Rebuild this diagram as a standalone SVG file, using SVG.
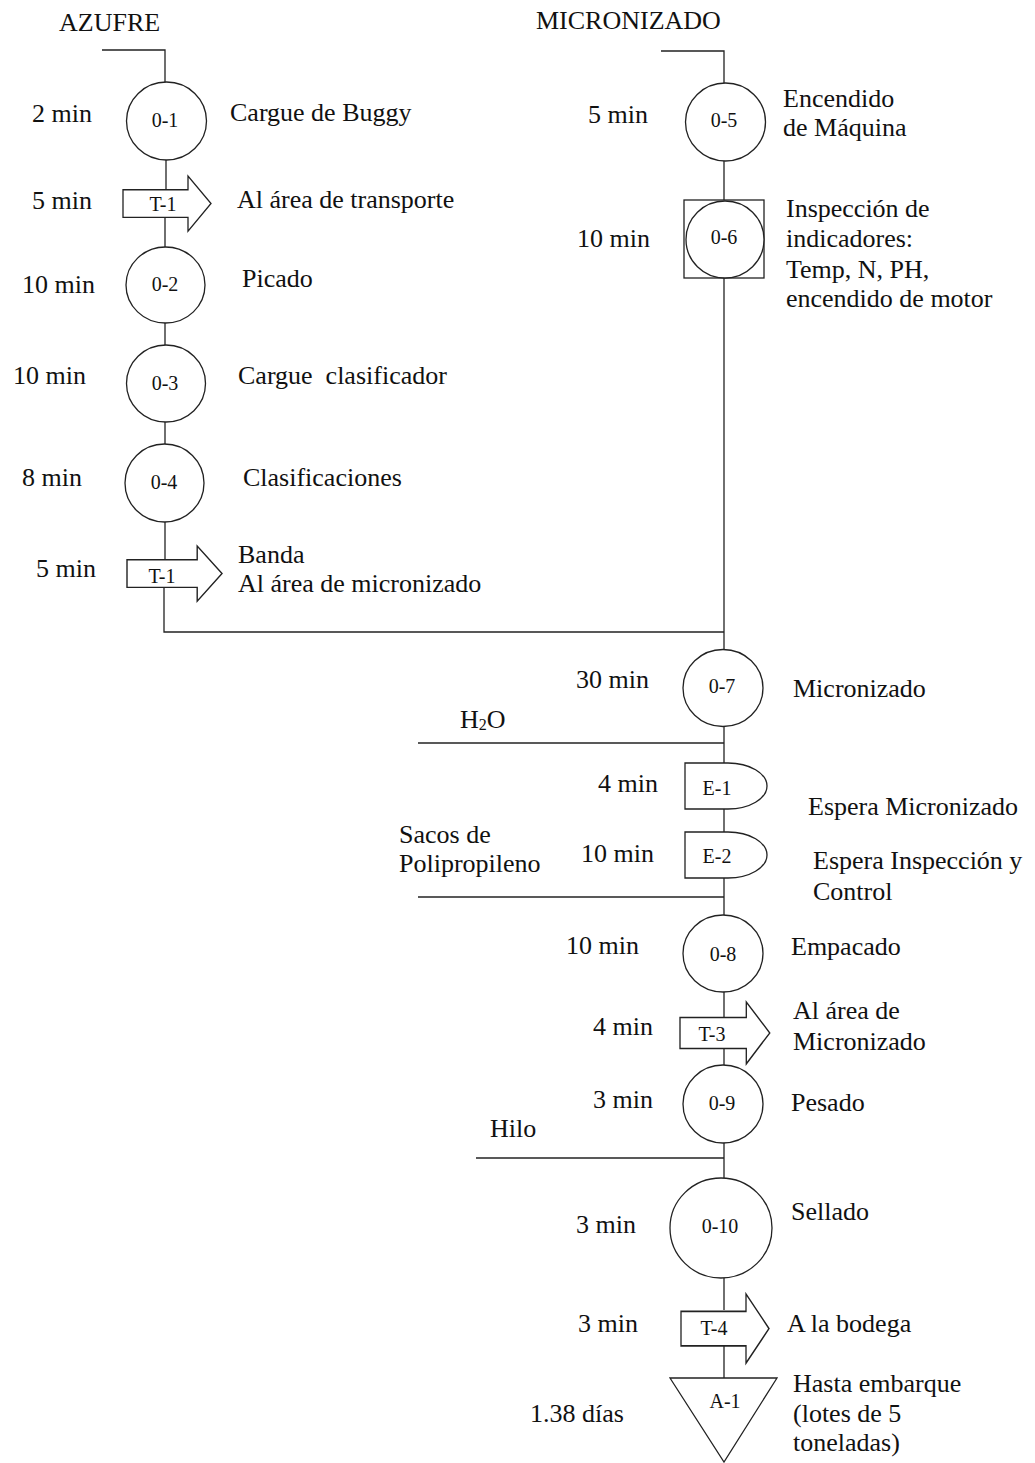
<svg xmlns="http://www.w3.org/2000/svg" width="1035" height="1463" viewBox="0 0 1035 1463">
<style>
.s{fill:#fff;stroke:#222;stroke-width:1.3}
.c{fill:none;stroke:#222;stroke-width:1.3}
text{font-family:"Liberation Serif","Times New Roman",serif;fill:#111}
.t{font-size:26px}
.k{font-size:20px;text-anchor:middle}
</style>
<defs>
<path id="arrow" d="M0,13 H65 V0 L88,26 L65,52 V39 H0 Z"/>
</defs>
<rect width="1035" height="1463" fill="#fff"/>
<g id="connectors">
<path class="c" d="M102,50 H165 V82"/>
<path class="c" d="M166,160 V189"/>
<path class="c" d="M165,217 V247"/>
<path class="c" d="M165,323 V345"/>
<path class="c" d="M165,422 V444"/>
<path class="c" d="M165,522 V559"/>
<path class="c" d="M164,587 V632 H724"/>
<path class="c" d="M661,51 H724 V83"/>
<path class="c" d="M724,161 V200"/>
<path class="c" d="M724,278 V650"/>
<path class="c" d="M724,727 V763"/>
<path class="c" d="M418,743 H724"/>
<path class="c" d="M724,809 V832"/>
<path class="c" d="M724,878 V915"/>
<path class="c" d="M418,897 H724"/>
<path class="c" d="M724,992 V1017"/>
<path class="c" d="M724,1048 V1065"/>
<path class="c" d="M724,1143 V1178"/>
<path class="c" d="M476,1158 H724"/>
<path class="c" d="M724,1278 V1310"/>
<path class="c" d="M724,1345 V1378"/>
</g>
<g id="titles">
<text class="t" x="59" y="31">AZUFRE</text>
<text class="t" x="536" y="29">MICRONIZADO</text>
</g>
<g id="n01">
<ellipse class="s" cx="166.5" cy="121" rx="40" ry="39"/>
<text class="k" x="165" y="127">0-1</text>
<text class="t" x="32" y="122">2 min</text>
<text class="t" x="230" y="121">Cargue de Buggy</text>
</g>
<g id="t1a">
<use href="#arrow" class="s" transform="translate(123,176) scale(1,1.06)"/>
<text class="k" x="163" y="211">T-1</text>
<text class="t" x="32" y="209">5 min</text>
<text class="t" x="237" y="208">Al área de transporte</text>
</g>
<g id="n02">
<ellipse class="s" cx="165.5" cy="285" rx="39.5" ry="38"/>
<text class="k" x="165" y="291">0-2</text>
<text class="t" x="22" y="293">10 min</text>
<text class="t" x="242" y="287">Picado</text>
</g>
<g id="n03">
<ellipse class="s" cx="166" cy="383.5" rx="39.5" ry="38.5"/>
<text class="k" x="165" y="390">0-3</text>
<text class="t" x="13" y="384">10 min</text>
<text class="t" x="238" y="384" xml:space="preserve">Cargue  clasificador</text>
</g>
<g id="n04">
<ellipse class="s" cx="164.5" cy="483" rx="39.5" ry="39"/>
<text class="k" x="164" y="489">0-4</text>
<text class="t" x="22" y="486">8 min</text>
<text class="t" x="243" y="486">Clasificaciones</text>
</g>
<g id="t1b">
<use href="#arrow" class="s" transform="translate(127,546) scale(1.08,1.06)"/>
<text class="k" x="162" y="583">T-1</text>
<text class="t" x="36" y="577">5 min</text>
<text class="t" x="238" y="563">Banda</text>
<text class="t" x="238" y="592">Al área de micronizado</text>
</g>
<g id="n05">
<ellipse class="s" cx="725.5" cy="122" rx="40" ry="39"/>
<text class="k" x="724" y="127">0-5</text>
<text class="t" x="588" y="123">5 min</text>
<text class="t" x="783" y="107">Encendido</text>
<text class="t" x="783" y="136">de Máquina</text>
</g>
<g id="n06">
<rect class="s" x="684" y="200" width="80" height="78"/>
<ellipse class="s" cx="725" cy="239.5" rx="39" ry="38.5"/>
<text class="k" x="724" y="244">0-6</text>
<text class="t" x="577" y="247">10 min</text>
<text class="t" x="786" y="217">Inspección de</text>
<text class="t" x="786" y="247">indicadores:</text>
<text class="t" x="786" y="278">Temp, N, PH,</text>
<text class="t" x="786" y="307">encendido de motor</text>
</g>
<g id="n07">
<ellipse class="s" cx="723" cy="688" rx="40" ry="38.5"/>
<text class="k" x="722" y="693">0-7</text>
<text class="t" x="576" y="688">30 min</text>
<text class="t" x="793" y="697">Micronizado</text>
<text class="t" x="460" y="728">H<tspan font-size="16" dy="2">2</tspan><tspan dy="-2">O</tspan></text>
</g>
<g id="e1">
<path class="s" d="M685,763 H728 A39,23 0 0 1 728,809 H685 Z"/>
<text class="k" x="717" y="795">E-1</text>
<text class="t" x="598" y="792">4 min</text>
<text class="t" x="808" y="815">Espera Micronizado</text>
</g>
<g id="e2">
<path class="s" d="M685,832 H728 A39,23 0 0 1 728,878 H685 Z"/>
<text class="k" x="717" y="863">E-2</text>
<text class="t" x="581" y="862">10 min</text>
<text class="t" x="399" y="843">Sacos de</text>
<text class="t" x="399" y="872">Polipropileno</text>
<text class="t" x="813" y="869">Espera Inspección y</text>
<text class="t" x="813" y="900">Control</text>
</g>
<g id="n08">
<ellipse class="s" cx="723" cy="953.5" rx="40" ry="38.5"/>
<text class="k" x="723" y="961">0-8</text>
<text class="t" x="566" y="954">10 min</text>
<text class="t" x="791" y="955">Empacado</text>
</g>
<g id="t3">
<use href="#arrow" class="s" transform="translate(680,1002) scale(1.02,1.19)"/>
<text class="k" x="712" y="1041">T-3</text>
<text class="t" x="593" y="1035">4 min</text>
<text class="t" x="793" y="1019">Al área de</text>
<text class="t" x="793" y="1050">Micronizado</text>
</g>
<g id="n09">
<ellipse class="s" cx="723" cy="1104" rx="40" ry="39"/>
<text class="k" x="722" y="1110">0-9</text>
<text class="t" x="593" y="1108">3 min</text>
<text class="t" x="791" y="1111">Pesado</text>
<text class="t" x="490" y="1137">Hilo</text>
</g>
<g id="n10">
<ellipse class="s" cx="721" cy="1228" rx="51" ry="50"/>
<text class="k" x="720" y="1233">0-10</text>
<text class="t" x="576" y="1233">3 min</text>
<text class="t" x="791" y="1220">Sellado</text>
</g>
<g id="t4">
<use href="#arrow" class="s" transform="translate(681,1294) scale(1.0,1.33)"/>
<text class="k" x="714" y="1335">T-4</text>
<text class="t" x="578" y="1332">3 min</text>
<text class="t" x="787" y="1332">A la bodega</text>
</g>
<g id="a1">
<path class="s" d="M670,1378 H777 L724,1462 Z"/>
<text class="k" x="725" y="1408">A-1</text>
<text class="t" x="530" y="1422">1.38 días</text>
<text class="t" x="793" y="1392">Hasta embarque</text>
<text class="t" x="793" y="1422">(lotes de 5</text>
<text class="t" x="793" y="1451">toneladas)</text>
</g>
</svg>
